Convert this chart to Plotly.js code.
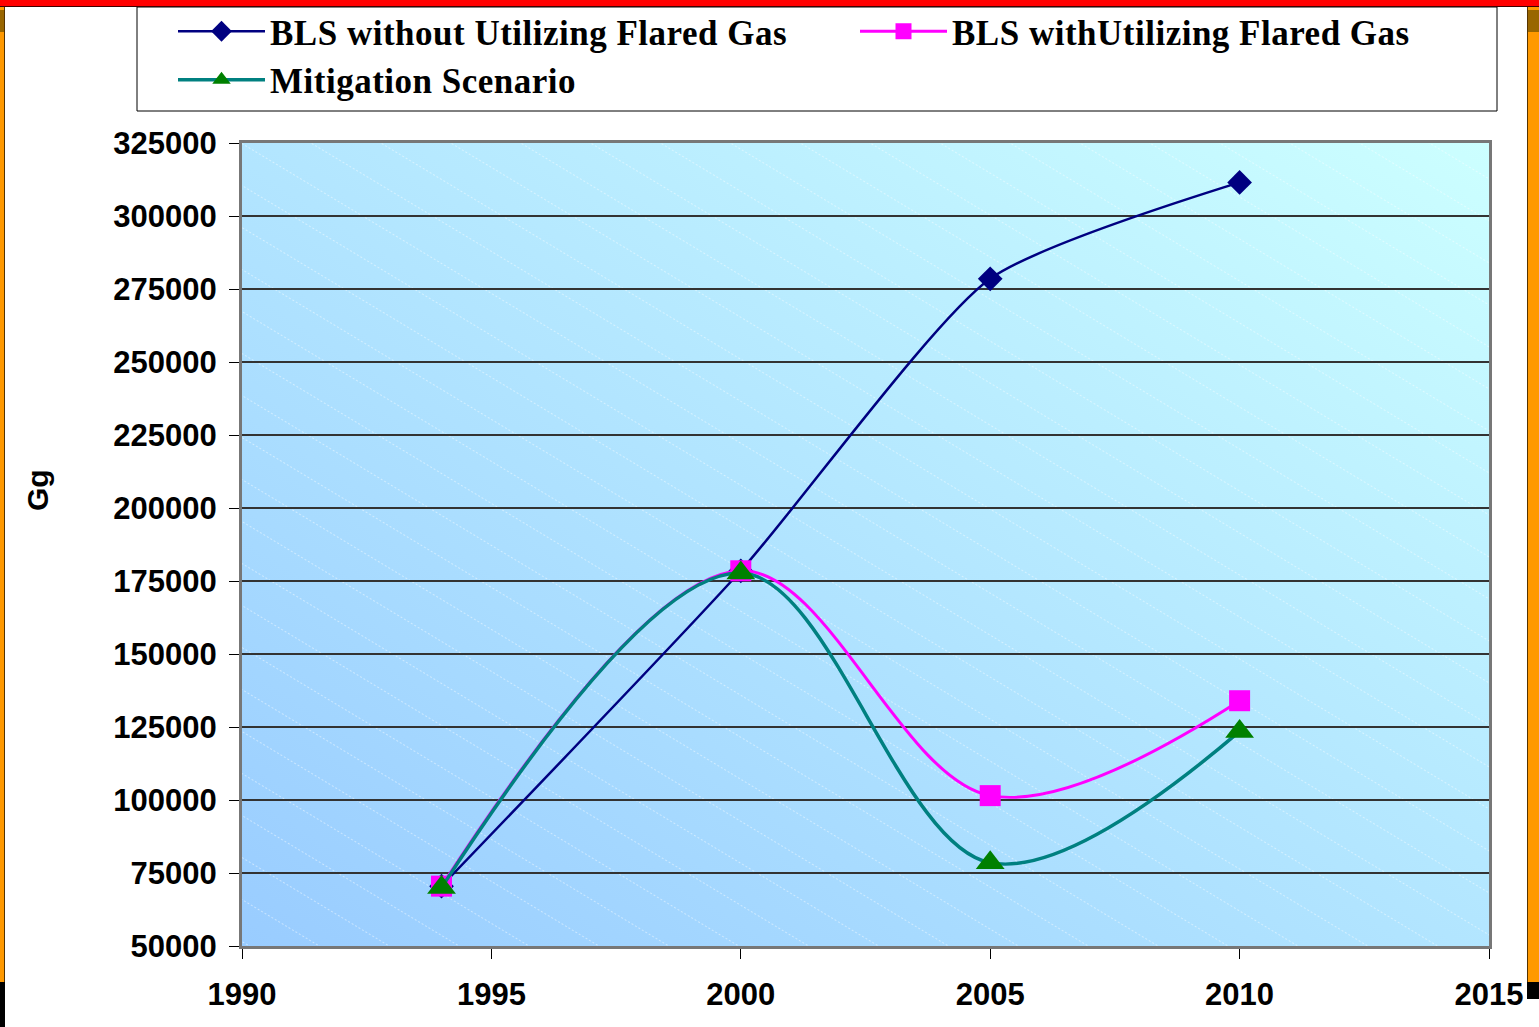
<!DOCTYPE html>
<html>
<head>
<meta charset="utf-8">
<script src="https://cdn.plot.ly/plotly-3.0.1.min.js"></script>
<style>
  html, body { margin: 0; padding: 0; background: #ffffff; overflow: hidden; }
  #wrap { position: relative; width: 1539px; height: 1027px; }
  #chart { position: absolute; left: 0; top: 0; width: 1539px; height: 1027px; }
  .deco { position: absolute; }
  .legendtext { letter-spacing: 0.5px; }
</style>
</head>
<body>
<div id="wrap">
  <div id="chart"></div>
  <div class="deco" style="left:0;top:0;width:1539px;height:6px;background:#ff0000;border-bottom:1px solid #400000;"></div>
  <div class="deco" style="left:0;top:7px;width:4px;height:975px;background:#ff9900;border-right:1px solid #553300;"></div>
  <div class="deco" style="left:0;top:10px;width:4px;height:22px;background:#996600;"></div>
  <div class="deco" style="left:0;top:982px;width:5px;height:45px;background:#000000;"></div>
  <div class="deco" style="left:1527px;top:7px;width:12px;height:975px;background:#ff9900;border-left:1px solid #553300;"></div>
  <div class="deco" style="left:1528px;top:10px;width:11px;height:22px;background:#996600;"></div>
  <div class="deco" style="left:1527px;top:982px;width:12px;height:17px;background:#000000;"></div>
</div>
<script>
const years = [1994, 2000, 2005, 2010];
const blsWithout = [70500, 178500, 278500, 311500];
const blsWith = [70500, 178500, 101500, 134000];
const mitigation = [70000, 177700, 78500, 123500];

const seriesNames = [
  "BLS without Utilizing Flared Gas",
  "BLS withUtilizing Flared Gas",
  "Mitigation Scenario"
];
const xTicks = [1990, 1995, 2000, 2005, 2010, 2015];
const yTicks = [50000, 75000, 100000, 125000, 150000, 175000, 200000, 225000, 250000, 275000, 300000, 325000];

const bgSvg =
  '<svg xmlns="http://www.w3.org/2000/svg" width="1247" height="803" viewBox="0 0 1247 803" preserveAspectRatio="none">' +
  '<defs><linearGradient id="g" x1="0" y1="1" x2="1" y2="0">' +
  '<stop offset="0" stop-color="#99ccff"/><stop offset="1" stop-color="#ccffff"/></linearGradient>' +
  '<pattern id="p" width="60" height="36" patternUnits="userSpaceOnUse" patternTransform="rotate(31)">' +
  '<line x1="0" y1="0.5" x2="60" y2="0.5" stroke="#ffffff" stroke-opacity="0.45" stroke-width="1" stroke-dasharray="2,2"/></pattern></defs>' +
  '<rect width="1247" height="803" fill="url(#g)"/><rect width="1247" height="803" fill="url(#p)"/></svg>';
const bgUri = 'data:image/svg+xml;charset=utf-8,' + encodeURIComponent(bgSvg);

const traces = [
  {
    x: years, y: blsWithout, name: seriesNames[0], type: 'scatter', mode: 'lines+markers',
    line: { color: '#000080', width: 2.5, shape: 'spline', smoothing: 0.6 },
    marker: { symbol: 'diamond', size: 19, color: '#000080' }
  },
  {
    x: years, y: blsWith, name: seriesNames[1], type: 'scatter', mode: 'lines+markers',
    line: { color: '#ff00ff', width: 3, shape: 'spline', smoothing: 1 },
    marker: { symbol: 'square', size: 21, color: '#ff00ff' }
  },
  {
    x: years, y: mitigation, name: seriesNames[2], type: 'scatter', mode: 'lines+markers',
    line: { color: '#008080', width: 3.5, shape: 'spline', smoothing: 1 },
    marker: { symbol: 'triangle-up', size: 25, color: '#008000' }
  }
];

const tickFont = { family: 'Liberation Sans, Arial, sans-serif', size: 31, color: '#000000', weight: 'bold' };

const layout = {
  width: 1539, height: 1027,
  margin: { l: 242, r: 50, t: 143, b: 81, autoexpand: false },
  paper_bgcolor: 'rgba(0,0,0,0)',
  plot_bgcolor: 'rgba(0,0,0,0)',
  showlegend: true,
  legend: {
    orientation: 'h',
    x: (173 - 242) / 1247, xanchor: 'left',
    y: (946 - 2) / 803, yanchor: 'top',
    entrywidth: 580, entrywidthmode: 'pixels',
    itemwidth: 87,
    bgcolor: 'rgba(0,0,0,0)',
    borderwidth: 0,
    tracegroupgap: 0,
    font: { family: 'Liberation Serif, Times New Roman, serif', size: 35, color: '#000000', weight: 'bold' }
  },
  xaxis: {
    range: [1990, 2015],
    tickvals: xTicks,
    ticktext: xTicks.map(String),
    ticks: 'outside', ticklen: 10, tickcolor: '#000000', tickwidth: 1,
    showgrid: false, zeroline: false,
    showline: true, linecolor: '#777777', linewidth: 3, mirror: true,
    tickfont: tickFont,
    ticklabelstandoff: 9,
    automargin: false
  },
  yaxis: {
    range: [50000, 325000],
    tickvals: yTicks,
    ticktext: yTicks.map(String),
    ticks: 'outside', ticklen: 10, tickcolor: '#000000', tickwidth: 1,
    showgrid: true, gridcolor: '#333333', gridwidth: 1.5,
    zeroline: false,
    showline: true, linecolor: '#777777', linewidth: 3, mirror: true,
    tickfont: tickFont,
    ticklabelstandoff: 6,
    automargin: false
  },
  images: [{
    source: bgUri, xref: 'paper', yref: 'paper',
    x: 0, y: 1, sizex: 1, sizey: 1, xanchor: 'left', yanchor: 'top',
    sizing: 'stretch', layer: 'below'
  }],
  shapes: [{
    type: 'rect', xref: 'paper', yref: 'paper',
    x0: (137 - 242) / 1247, x1: (1497 - 242) / 1247,
    y0: (946 - 111) / 803, y1: (946 - 7) / 803,
    line: { color: '#000000', width: 1 }, fillcolor: '#ffffff', layer: 'below'
  }],
  annotations: [{
    text: 'Gg', xref: 'paper', yref: 'paper',
    x: (38 - 242) / 1247, y: (946 - 490) / 803,
    xanchor: 'center', yanchor: 'middle', textangle: -90, showarrow: false,
    font: { family: 'Liberation Sans, Arial, sans-serif', size: 30, color: '#000000', weight: 'bold' }
  }]
};

Plotly.newPlot('chart', traces, layout, { displayModeBar: false, staticPlot: true });
</script>
</body>
</html>
